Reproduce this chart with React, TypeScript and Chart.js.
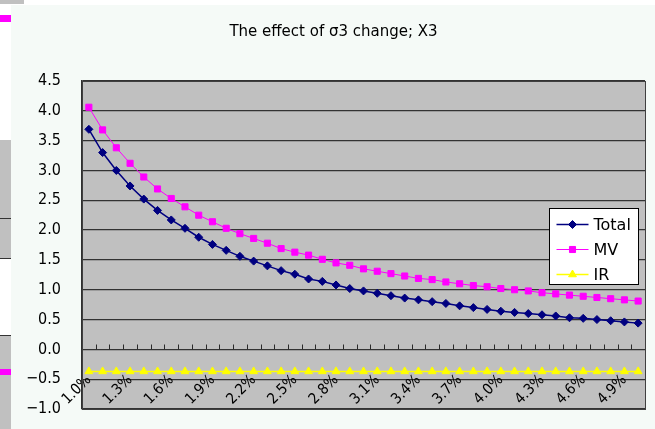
import React, { useEffect, useRef } from "react";
import { Chart, registerables } from "chart.js";
import { drawPoint } from "chart.js/helpers";

Chart.register(...registerables);

const categories = [
  "1.0%", "1.1%", "1.2%", "1.3%", "1.4%", "1.5%", "1.6%", "1.7%", "1.8%", "1.9%",
  "2.0%", "2.1%", "2.2%", "2.3%", "2.4%", "2.5%", "2.6%", "2.7%", "2.8%", "2.9%",
  "3.0%", "3.1%", "3.2%", "3.3%", "3.4%", "3.5%", "3.6%", "3.7%", "3.8%", "3.9%",
  "4.0%", "4.1%", "4.2%", "4.3%", "4.4%", "4.5%", "4.6%", "4.7%", "4.8%", "4.9%",
  "5.0%",
];

const totalValues = [
  3.69, 3.30, 3.00, 2.74, 2.52, 2.33, 2.17, 2.03, 1.88, 1.76,
  1.66, 1.56, 1.48, 1.40, 1.32, 1.26, 1.18, 1.14, 1.08, 1.02,
  0.98, 0.94, 0.90, 0.86, 0.83, 0.80, 0.77, 0.73, 0.70, 0.67,
  0.64, 0.62, 0.60, 0.58, 0.56, 0.53, 0.52, 0.50, 0.48, 0.46,
  0.44,
];

const mvValues = [
  4.06, 3.68, 3.38, 3.12, 2.89, 2.69, 2.53, 2.39, 2.25, 2.14,
  2.03, 1.94, 1.86, 1.78, 1.69, 1.63, 1.58, 1.51, 1.45, 1.41,
  1.35, 1.31, 1.27, 1.23, 1.19, 1.17, 1.13, 1.10, 1.07, 1.05,
  1.02, 1.00, 0.98, 0.95, 0.93, 0.91, 0.89, 0.87, 0.85, 0.83,
  0.81,
];

const irValues = [
  -0.37, -0.37, -0.37, -0.37, -0.37, -0.37, -0.37, -0.37, -0.37, -0.37,
  -0.37, -0.37, -0.37, -0.37, -0.37, -0.37, -0.37, -0.37, -0.37, -0.37,
  -0.37, -0.37, -0.37, -0.37, -0.37, -0.37, -0.37, -0.37, -0.37, -0.37,
  -0.37, -0.37, -0.37, -0.37, -0.37, -0.37, -0.37, -0.37, -0.37, -0.37,
  -0.37,
];

const seriesNames = ["Total", "MV", "IR"];
const titleText = "The effect of σ3 change; X3";
const yMin = -1.0;
const yMax = 4.5;
const yStep = 0.5;
const labelEvery = 3;

const TICK_FONT = "'DejaVu Sans Condensed', 'DejaVu Sans', sans-serif";
const TEXT_FONT = "'DejaVu Sans', sans-serif";

const zeroPadding = (s: any) => {
  s.paddingLeft = 0;
  s.paddingRight = 0;
  s.paddingTop = 0;
  s.paddingBottom = 0;
};

const plotPlugin = {
  id: "plotDecor",
  beforeDraw(chart: any) {
    const { ctx, chartArea } = chart;
    ctx.save();
    ctx.fillStyle = "#c0c0c0";
    ctx.fillRect(chartArea.left, chartArea.top, chartArea.right - chartArea.left, chartArea.bottom - chartArea.top);
    ctx.restore();
  },
  beforeDatasetsDraw(chart: any) {
    const { ctx, chartArea, scales } = chart;
    const xs = scales.x;
    const ys = scales.y;
    const y0 = Math.round(ys.getPixelForValue(0)) + 0.5;
    ctx.save();
    ctx.strokeStyle = "#2a2a2a";
    ctx.lineWidth = 1;
    ctx.beginPath();
    const n = chart.data.labels.length;
    for (let i = 1; i < n; i++) {
      const x = Math.round((xs.getPixelForValue(i - 1) + xs.getPixelForValue(i)) / 2) + 0.5;
      ctx.moveTo(x, y0);
      ctx.lineTo(x, y0 - 5);
    }
    ctx.stroke();
    ctx.strokeStyle = "#404040";
    ctx.strokeRect(
      Math.round(chartArea.left) + 0.5,
      Math.round(chartArea.top) + 0.5,
      Math.round(chartArea.right - chartArea.left),
      Math.round(chartArea.bottom - chartArea.top)
    );
    ctx.restore();
  },
  afterDraw(chart: any) {
    const { ctx, chartArea } = chart;
    const boxW = 89;
    const boxH = 76;
    const left = Math.round(chartArea.right - 96) + 0.5;
    const top = Math.round(chartArea.top + 127) + 0.5;
    ctx.save();
    ctx.fillStyle = "#ffffff";
    ctx.fillRect(left, top, boxW, boxH);
    ctx.strokeStyle = "#000000";
    ctx.lineWidth = 1;
    ctx.strokeRect(left, top, boxW, boxH);
    ctx.font = "16px " + TEXT_FONT;
    ctx.textBaseline = "middle";
    ctx.textAlign = "left";
    chart.data.datasets.forEach((ds: any, i: number) => {
      const cy = top + 16 + i * 25;
      ctx.strokeStyle = ds.borderColor;
      ctx.lineWidth = ds.borderWidth;
      ctx.beginPath();
      ctx.moveTo(left + 7, cy);
      ctx.lineTo(left + 39, cy);
      ctx.stroke();
      ctx.fillStyle = ds.pointBackgroundColor;
      ctx.strokeStyle = ds.pointBorderColor;
      ctx.lineWidth = 1;
      drawPoint(ctx, {
        pointStyle: ds.pointStyle,
        radius: ds.pointRadius,
        borderWidth: 1,
        rotation: 0,
      } as any, left + 23, cy);
      ctx.fillStyle = "#000000";
      ctx.fillText(seriesNames[i], left + 44, cy + 1);
    });
    ctx.restore();
  },
};

function App() {
  const canvasRef = useRef<HTMLCanvasElement | null>(null);

  useEffect(() => {
    document.body.style.margin = "0";
    const canvas = canvasRef.current;
    if (!canvas) return;
    const mk = (data: number[], color: string, style: string, radius: number, width: number, fill: string) => ({
      data,
      borderColor: color,
      backgroundColor: fill,
      pointBackgroundColor: fill,
      pointBorderColor: fill,
      pointStyle: style,
      pointRadius: radius,
      pointBorderWidth: 1,
      borderWidth: width,
      tension: 0,
      fill: false,
    });
    const chart = new Chart(canvas, {
      type: "line",
      data: {
        labels: categories,
        datasets: [
          { label: seriesNames[0], ...mk(totalValues, "#000080", "rectRot", 4, 1.5, "#000080") },
          { label: seriesNames[1], ...mk(mvValues, "#ff00ff", "rect", 4.3, 1, "#ff00ff") },
          { label: seriesNames[2], ...mk(irValues, "#ffff00", "triangle", 4.5, 1.5, "#ffff00") },
        ] as any,
      },
      options: {
        animation: false,
        responsive: false,
        maintainAspectRatio: false,
        layout: { padding: { left: 11, right: 10, top: 0, bottom: 20 } },
        plugins: {
          legend: { display: false },
          tooltip: { enabled: false },
          title: {
            display: true,
            text: titleText,
            color: "#000000",
            font: { family: TEXT_FONT, size: 15, weight: "normal" },
            padding: { top: 18, bottom: 40 },
          },
        },
        scales: {
          x: {
            type: "category",
            offset: true,
            position: { y: 0 } as any,
            afterFit: zeroPadding,
            grid: { display: true, drawOnChartArea: false, drawTicks: false },
            border: { display: false },
            ticks: {
              autoSkip: false,
              minRotation: 45,
              maxRotation: 45,
              padding: 22,
              color: "#000000",
              font: { family: TICK_FONT, size: 15 },
              callback: (_v: any, i: number) => (i % labelEvery === 0 ? categories[i] : ""),
            },
          },
          y: {
            min: yMin,
            max: yMax,
            afterFit: (s: any) => {
              s.width = 60;
              zeroPadding(s);
            },
            grid: { color: "#333333", lineWidth: 1.3, drawTicks: false },
            border: { display: true, color: "#303030", width: 1.3 },
            ticks: {
              stepSize: yStep,
              padding: 21,
              color: "#000000",
              font: { family: TICK_FONT, size: 16 },
              callback: (v: any) => {
                const n = Number(v);
                const s = Math.abs(n).toFixed(1);
                return n < 0 ? "\u2212" + s : s;
              },
            },
          },
        },
      },
      plugins: [plotPlugin],
    });
    return () => chart.destroy();
  }, []);

  return (
    <div style={{ position: "relative", width: 655, height: 429, background: "#ffffff", overflow: "hidden" }}>
      <div style={{ position: "absolute", left: 0, top: 0, width: 24, height: 4, background: "#c0c0c0" }} />
      <div style={{ position: "absolute", left: 0, top: 15, width: 11, height: 7, background: "#ff00ff" }} />
      <div style={{ position: "absolute", left: 0, top: 140, width: 11, height: 118, background: "#c0c0c0", borderBottom: "1px solid #333" }} />
      <div style={{ position: "absolute", left: 0, top: 218, width: 11, height: 1, background: "#333" }} />
      <div style={{ position: "absolute", left: 0, top: 335, width: 11, height: 94, background: "#c0c0c0", borderTop: "1px solid #333" }} />
      <div style={{ position: "absolute", left: 0, top: 369, width: 11, height: 6, background: "#ff00ff" }} />
      <div style={{ position: "absolute", left: 11, top: 5, width: 644, height: 424, background: "#f5faf7" }}>
        <canvas ref={canvasRef} width={644} height={424} style={{ display: "block", width: 644, height: 424 }} />
      </div>
    </div>
  );
}

export default App;
